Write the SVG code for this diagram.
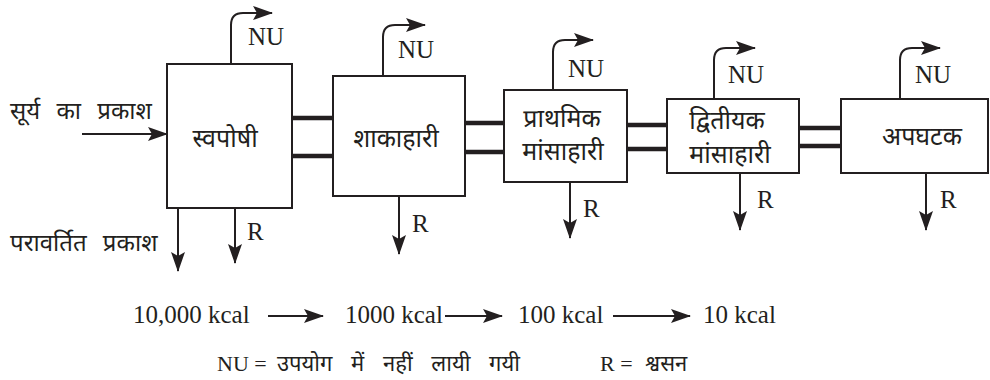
<svg xmlns="http://www.w3.org/2000/svg" width="990" height="380" viewBox="0 0 990 380">
<defs>
<style>
.box{fill:#fff;stroke:#231f20;stroke-width:2}
.dbl{fill:none;stroke:#231f20;stroke-width:4.5}
.ar{fill:none;stroke:#231f20;stroke-width:2;marker-end:url(#ah)}
.lat{font-family:"Liberation Serif","Times New Roman",serif;fill:#231f20}
.dev{font-family:"Noto Sans Devanagari","Noto Serif Devanagari","Lohit Devanagari","Noto Sans",sans-serif;fill:#231f20}
.lbl{font-size:25px}
.num{font-size:25px}
.bx{font-size:25px;text-anchor:middle}
.side{font-size:24px;word-spacing:10px}
.leg{font-size:22px}
</style>
<marker id="ah" markerUnits="userSpaceOnUse" viewBox="0 0 20 14" markerWidth="20" markerHeight="14" refX="19" refY="7" orient="auto" overflow="visible">
<path d="M0,0 L20,7 L0,14 L4,7 z" fill="#231f20"/>
</marker>
</defs>

<g id="connectors">
<path class="ar" d="M82,134 H167"/>
<path class="dbl" d="M292,118 H333 M292,156 H333"/>
<path class="dbl" d="M465,123 H504 M465,152 H504"/>
<path class="dbl" d="M627,125 H667 M627,149 H667"/>
<path class="dbl" d="M799,128 H841 M799,146 H841"/>
<path class="ar" d="M231,64 V25 Q231,13 243,13 H272"/>
<path class="ar" d="M383,76 V37 Q383,25 395,25 H425"/>
<path class="ar" d="M553,90 V52 Q553,40 565,40 H593"/>
<path class="ar" d="M714,99 V60 Q714,48 726,48 H755"/>
<path class="ar" d="M900,99 V60 Q900,48 912,48 H940"/>
<path class="ar" d="M178,208 V271"/>
<path class="ar" d="M235,208 V263"/>
<path class="ar" d="M399,196 V254"/>
<path class="ar" d="M570,182 V238"/>
<path class="ar" d="M740,173 V230"/>
<path class="ar" d="M926,173 V230"/>
<path class="ar" d="M268,316 H323"/>
<path class="ar" d="M445,316 H502"/>
<path class="ar" d="M613,316 H690"/>
</g>

<g id="autotroph">
<rect class="box" x="167" y="64" width="125" height="144"/>
<text class="dev bx" x="225" y="147">स्वपोषी</text>
</g>
<g id="herbivore">
<rect class="box" x="333" y="76" width="132" height="120"/>
<text class="dev bx" x="396" y="147">शाकाहारी</text>
</g>
<g id="primary-carnivore">
<rect class="box" x="504" y="90" width="123" height="92"/>
<text class="dev bx" x="562" y="127">प्राथमिक</text>
<text class="dev bx" x="563" y="160">मांसाहारी</text>
</g>
<g id="secondary-carnivore">
<rect class="box" x="667" y="99" width="132" height="74"/>
<text class="dev bx" x="727" y="129">द्वितीयक</text>
<text class="dev bx" x="730" y="163">मांसाहारी</text>
</g>
<g id="decomposer">
<rect class="box" x="841" y="99" width="147" height="74"/>
<text class="dev bx" x="922" y="145">अपघटक</text>
</g>

<g id="labels">
<text class="dev side" x="10" y="119">सूर्य का प्रकाश</text>
<text class="dev side" x="10" y="251">परावर्तित प्रकाश</text>
<text class="lat lbl" x="248" y="45">NU</text>
<text class="lat lbl" x="398" y="58">NU</text>
<text class="lat lbl" x="568" y="77">NU</text>
<text class="lat lbl" x="728" y="83">NU</text>
<text class="lat lbl" x="915" y="83">NU</text>
<text class="lat lbl" x="247" y="240">R</text>
<text class="lat lbl" x="412" y="232">R</text>
<text class="lat lbl" x="583" y="217">R</text>
<text class="lat lbl" x="757" y="208">R</text>
<text class="lat lbl" x="940" y="208">R</text>
<text class="lat num" x="133" y="323">10,000 kcal</text>
<text class="lat num" x="345" y="323">1000 kcal</text>
<text class="lat num" x="518" y="323">100 kcal</text>
<text class="lat num" x="703" y="323">10 kcal</text>
<text class="lat leg" x="217" y="371">NU =</text>
<text class="dev leg" x="277" y="371" style="word-spacing:13px">उपयोग में नहीं लायी गयी</text>
<text class="lat leg" x="600" y="371">R =</text>
<text class="dev leg" x="645" y="371">श्वसन</text>
</g>
</svg>
